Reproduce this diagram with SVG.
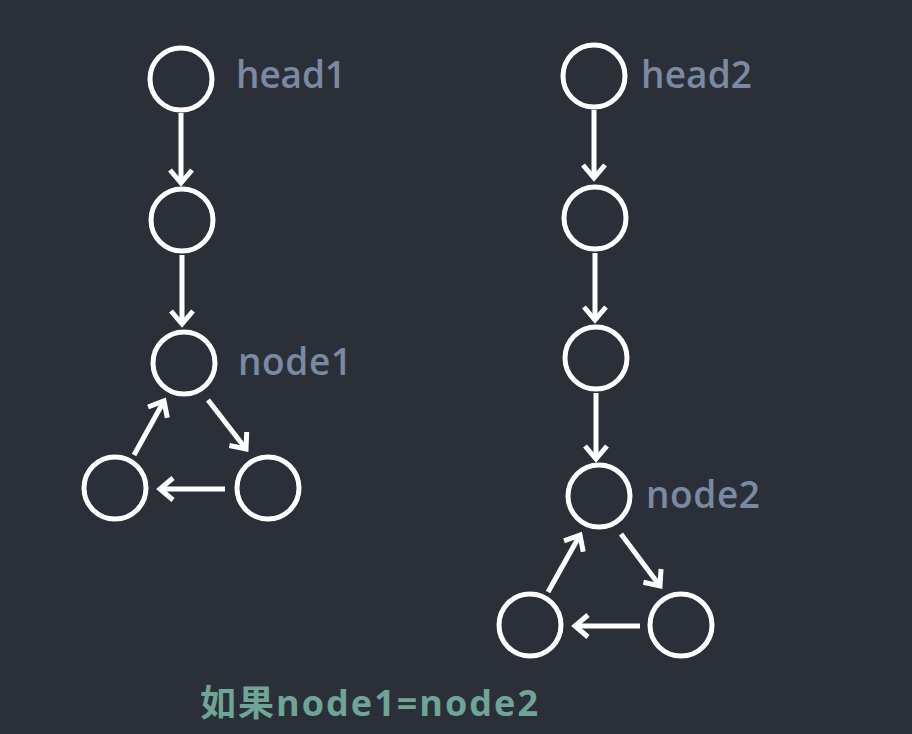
<svg xmlns="http://www.w3.org/2000/svg" width="912" height="734" viewBox="0 0 912 734">
<defs>
<marker id="ah" markerUnits="userSpaceOnUse" markerWidth="26" markerHeight="26" viewBox="0 0 26 26" refX="17" refY="13" orient="auto">
<path d="M4,2 L17,13 L4,24" fill="none" stroke="#ffffff" stroke-width="5" stroke-linejoin="miter"/>
</marker>
<style>
.n{fill:none;stroke:#ffffff;stroke-width:5}
.e{stroke:#ffffff;stroke-width:5;fill:none;marker-end:url(#ah)}
.lbl{font-family:"Open Sans","Noto Sans",sans-serif;font-weight:600;font-size:37px;fill:#7a8aa3}
.cap{font-family:"Open Sans","Noto Sans CJK SC",sans-serif;font-weight:700;font-size:36px;fill:#6ea596}
</style>
</defs>
<rect width="912" height="734" fill="#2b3038"/>
<g id="edges">
<line class="e" x1="181" y1="113" x2="181" y2="183"/>
<line class="e" x1="182" y1="255" x2="182" y2="324"/>
<line class="e" x1="208" y1="400" x2="246" y2="449"/>
<line class="e" x1="225" y1="489" x2="160" y2="489"/>
<line class="e" x1="134" y1="455" x2="164" y2="401"/>
<line class="e" x1="594" y1="110" x2="594" y2="178"/>
<line class="e" x1="595" y1="253" x2="595" y2="320"/>
<line class="e" x1="596" y1="393" x2="596" y2="459"/>
<line class="e" x1="621" y1="534" x2="660" y2="586"/>
<line class="e" x1="640" y1="626" x2="575" y2="626"/>
<line class="e" x1="548" y1="592" x2="580" y2="535"/>
</g>
<g id="head1"><circle class="n" cx="181" cy="79" r="31"/><text class="lbl" x="236" y="88" textLength="110" lengthAdjust="spacing">head1</text></g>
<g id="l2"><circle class="n" cx="182" cy="220" r="31"/></g>
<g id="node1"><circle class="n" cx="184" cy="363" r="31"/><text class="lbl" x="238" y="375" textLength="114" lengthAdjust="spacing">node1</text></g>
<g id="l4"><circle class="n" cx="115" cy="488" r="31"/></g>
<g id="l5"><circle class="n" cx="268" cy="488" r="31"/></g>
<g id="head2"><circle class="n" cx="594" cy="76" r="31"/><text class="lbl" x="641" y="88" textLength="111" lengthAdjust="spacing">head2</text></g>
<g id="r2"><circle class="n" cx="595" cy="218" r="31"/></g>
<g id="r3"><circle class="n" cx="596" cy="358" r="31"/></g>
<g id="node2"><circle class="n" cx="599" cy="496" r="31"/><text class="lbl" x="646" y="508" textLength="114" lengthAdjust="spacing">node2</text></g>
<g id="r5"><circle class="n" cx="530" cy="625" r="31"/></g>
<g id="r6"><circle class="n" cx="681" cy="625" r="31"/></g>
<text class="cap" x="200" y="716" textLength="338" lengthAdjust="spacing">如果node1=node2</text>
</svg>
